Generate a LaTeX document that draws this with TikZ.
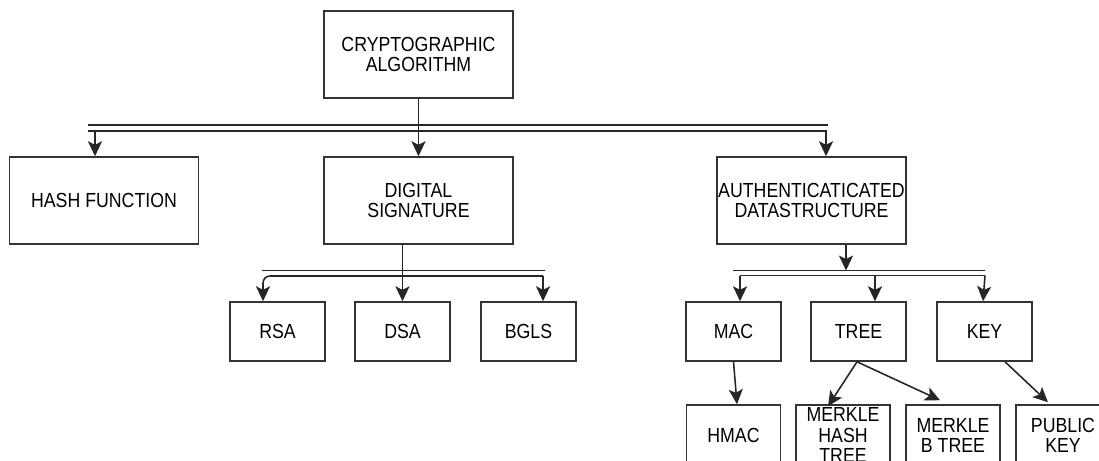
\documentclass[tikz,border=0pt]{standalone}
\usepackage{fontspec}
\setmainfont{Liberation Sans}[FakeStretch=0.87]
\usetikzlibrary{arrows.meta}

\begin{document}
\begin{tikzpicture}[
	box/.style={draw=black!80, line width=0.9pt, align=center, inner sep=0pt, font=\fontsize{11.6}{11.4}\selectfont},
	bigbox/.style={box, minimum width=3.78cm, minimum height=1.74cm},
	smallbox/.style={box, minimum width=1.9cm, minimum height=1.18cm},
	lowbox/.style={box, minimum width=1.88cm, minimum height=1.2cm},
	bus/.style={black!85, line width=0.9pt},
	arr/.style={bus, -{Stealth[length=8.5pt,width=8pt,inset=2pt]}}]
	\useasboundingbox (0,0) rectangle (21.98,-9.2);
	\node[bigbox] (algo) at (8.37,-1.09) {CRYPTOGRAPHIC\\ALGORITHM};
	\node[bigbox] (hash) at (2.08,-4.01) {HASH FUNCTION};
	\node[bigbox] (dsig) at (8.37,-4.01) {DIGITAL\\SIGNATURE};
	\node[bigbox] (ads) at (16.23,-4.01) {AUTHENTICATICATED\\DATASTRUCTURE};
	\node[smallbox] (rsa) at (5.55,-6.63) {RSA};
	\node[smallbox] (dsa) at (8.05,-6.63) {DSA};
	\node[smallbox] (bgls) at (10.57,-6.63) {BGLS};
	\node[smallbox] (mac) at (14.67,-6.63) {MAC};
	\node[smallbox] (tree) at (17.17,-6.63) {TREE};
	\node[smallbox] (key) at (19.69,-6.63) {KEY};
	\node[lowbox] (hmac) at (14.67,-8.7) {HMAC};
	\node[lowbox] (mhash) at (16.86,-8.7) {MERKLE\\HASH\\TREE};
	\node[lowbox] (mbtree) at (19.06,-8.7) {MERKLE\\B TREE};
	\node[lowbox] (pkey) at (21.26,-8.7) {PUBLIC\\KEY};
	\coordinate (top1L) at (1.76,-2.5);
	\coordinate (top1R) at (16.56,-2.5);
	\coordinate (top2L) at (1.76,-2.62);
	\draw[bus] (top1L) -- (top1R);
	\draw[arr] (top2L) -| ([xshift=0.29cm]ads.north);
	\draw[arr] ([xshift=-0.18cm]hash.north |- top2L) -- ([xshift=-0.18cm]hash.north);
	\draw[arr] (algo) -- (dsig);
	\coordinate (ds1L) at (5.24,-5.41);
	\coordinate (ds1R) at (10.9,-5.41);
	\coordinate (ds2R) at (10.86,-5.52);
	\draw[bus] (ds1L) -- (ds1R);
	\draw[arr, rounded corners=4pt] (ds2R) -| ([xshift=-0.29cm]rsa.north);
	\draw[arr] (ds2R) -- ([xshift=0.29cm]bgls.north);
	\draw[arr] (dsig.south -| dsa.north) -- (dsa.north);
	\coordinate (ad1L) at (14.66,-5.41);
	\coordinate (ad1R) at (19.7,-5.41);
	\coordinate (ad2L) at (14.8,-5.51);
	\coordinate (ad2R) at (19.7,-5.51);
	\draw[bus] (ad1L) -- (ad1R);
	\draw[bus] (ad2L) -- (ad2R);
	\draw[arr] ([xshift=0.69cm]ads.south) -- ([xshift=0.69cm]ads.south |- ad1L);
	\draw[arr] (ad2L) -- ([xshift=0.13cm]mac.north);
	\draw[arr] ([xshift=0.33cm]tree.north |- ad2L) -- ([xshift=0.33cm]tree.north);
	\draw[arr] (ad2R) -- ([xshift=-0.03cm]key.north);
	\draw[arr] (mac.south) -- ([xshift=0.07cm]hmac.north);
	\draw[arr] ([xshift=-0.03cm]tree.south) -- ([xshift=-0.3cm,yshift=-0.04cm]mhash.north);
	\draw[arr] ([xshift=-0.03cm]tree.south) -- ([xshift=-0.26cm,yshift=0.08cm]mbtree.north);
	\draw[arr] ([xshift=0.41cm]key.south) -- ([xshift=-0.3cm,yshift=0.04cm]pkey.north);
\end{tikzpicture}
\end{document}
